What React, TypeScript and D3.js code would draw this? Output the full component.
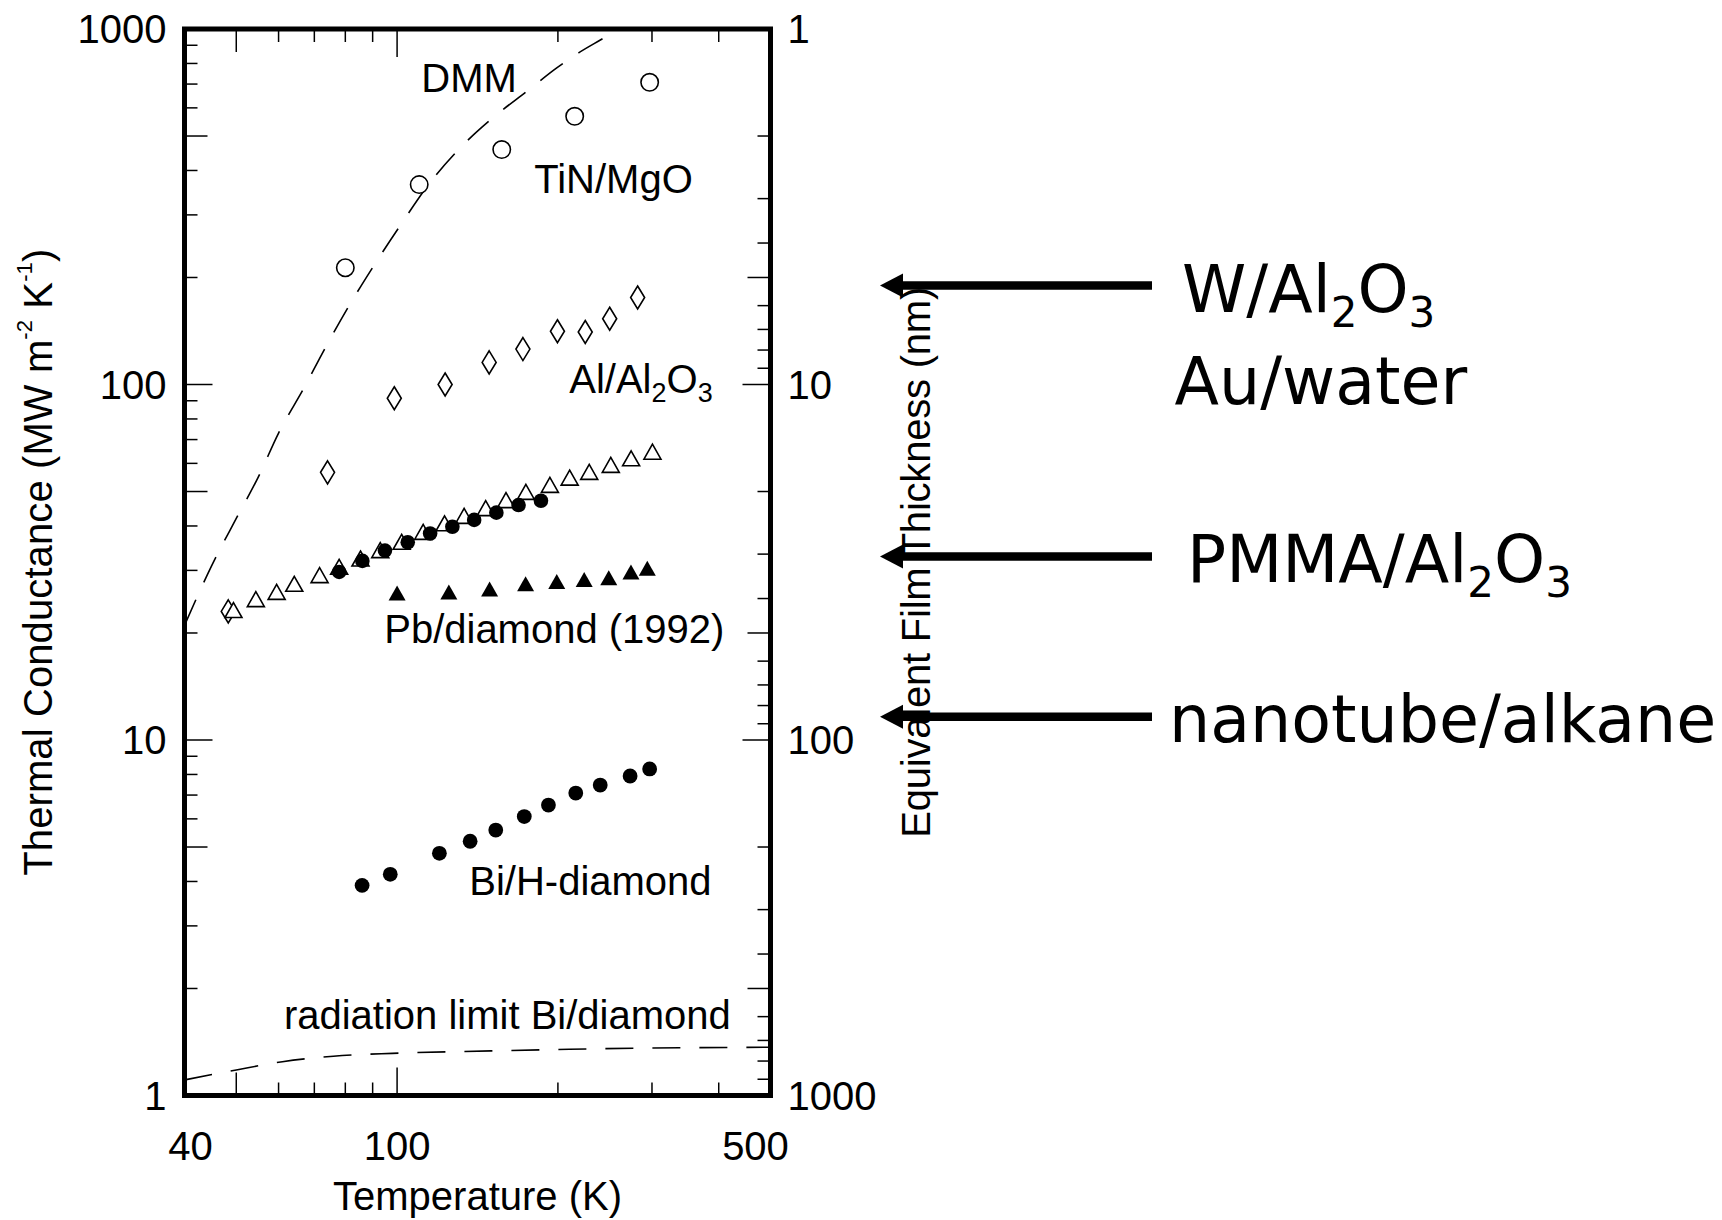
import React from 'react';
import * as d3 from 'd3';

// ---------- data (T in K, G in MW m^-2 K^-1) ----------
const tinT = [80, 110, 157, 215, 297];
const tinG = [213, 365, 458, 568, 708];

const alT = [48.3, 74.1, 98.8, 123, 148.7, 172, 199.6, 225, 250, 282];
const alG = [23.0, 56.6, 91.5, 100, 115.4, 125.8, 141.2, 140.5, 153.1, 175.7];

const openTriT = [49.4, 54.4, 59.5, 64.2, 71.6, 77.9, 85.4, 93, 102, 111.9, 122.7, 133.5, 146.5, 159.9, 174.2, 193.2, 210.4, 228.9, 251.2, 274.2, 300.6];
const openTriG = [23.2, 24.9, 26.1, 27.5, 29.1, 30.7, 32.4, 34.2, 36.1, 38.5, 40.7, 42.7, 44.9, 47.3, 49.9, 52.2, 54.7, 56.8, 59.4, 62.0, 64.7];

const dotT = [77.9, 86.1, 94.9, 104.7, 115.3, 126.9, 139.4, 153.4, 168.8, 185.9];
const dotG = [29.7, 31.9, 34.1, 36.0, 38.1, 39.8, 41.6, 43.6, 45.8, 47.1];

const pbT = [100, 125, 149, 174, 199, 224, 249, 274, 294];
const pbG = [25.9, 26.1, 26.6, 27.5, 27.9, 28.3, 28.6, 29.7, 30.4];

const biT = [86, 97.1, 120, 137, 153, 173, 192, 216, 240, 273, 297];
const biG = [3.9, 4.19, 4.8, 5.19, 5.58, 6.09, 6.56, 7.09, 7.47, 7.92, 8.29];

const dmmT = [40, 45, 50, 55, 60, 67, 73, 81, 91, 102, 115, 132, 152, 175, 199, 219, 245, 262];
const dmmG = [21, 31, 42, 55, 73, 98, 125, 165, 219, 284, 368, 467, 567, 668, 777, 858, 948, 1010];

const radT = [40, 50, 61, 76, 98, 150, 210, 300, 500];
const radG = [1.106, 1.18, 1.245, 1.29, 1.314, 1.335, 1.349, 1.36, 1.367];

// axis ticks
const xLabels = [40, 100, 500];
const xMajor = [100];
const xMid = [50];
const xMinor = [60, 70, 80, 90, 200, 300, 400];
const yLabels = [1, 10, 100, 1000];
const yMajor = [10, 100];
const yMid = [5, 50, 500];
const yMinor = [2, 3, 4, 6, 7, 8, 9, 20, 30, 40, 60, 70, 80, 90, 200, 300, 400, 600, 700, 800, 900];
const rLabels = [1, 10, 100, 1000];

// annotation arrows (conductance level they point to)
const arrowG = [190, 32.8, 11.63];

// in-plot labels: [text, T, G] (left start, baseline)
const plotLabels: [string, number, number][] = [
  ['DMM', 111, 665],
  ['TiN/MgO', 180.6, 345.7],
  ['Pb/diamond (1992)', 94.6, 18.75],
  ['Bi/H-diamond', 136.5, 3.664],
  ['radiation limit Bi/diamond', 61.4, 1.539],
];
const alLabelPos: [number, number] = [210, 94.7];

const W = 1722, H = 1220;
const L = 184.5, R = 770.5, T = 29, B = 1095.5;
const HF = 'Liberation Sans, Arial, Helvetica, sans-serif';
const DF = 'DejaVu Sans, Verdana, sans-serif';

export default function App() {
  const x = d3.scaleLog().domain([40, 500]).range([L, R]);
  const y = d3.scaleLog().domain([1, 1000]).range([B, T]);
  const yR = d3.scaleLog().domain([1, 1000]).range([T, B]);

  const line = d3
    .line<[number, number]>()
    .x((d) => x(d[0]))
    .y((d) => y(d[1]))
    .curve(d3.curveMonotoneX);

  const dmm = line(dmmT.map((t, i) => [t, dmmG[i]]));
  const rad = line(radT.map((t, i) => [t, radG[i]]));

  const tickSets: [number[], number][] = [
    [xMajor, 28],
    [xMid, 23],
    [xMinor, 13],
  ];
  const yTickSets: [number[], number][] = [
    [yMajor, 28],
    [yMid, 23],
    [yMinor, 13],
  ];

  const tri = (cx: number, cy: number, w = 17, h = 15) =>
    `M${cx},${cy - h / 2}L${cx + w / 2},${cy + h / 2}L${cx - w / 2},${cy + h / 2}Z`;
  const dia = (cx: number, cy: number, w = 14, h = 23) =>
    `M${cx},${cy - h / 2}L${cx + w / 2},${cy}L${cx},${cy + h / 2}L${cx - w / 2},${cy}Z`;

  const tipX = 880, baseX = 903, tailX = 1152;

  return (
    <svg
      width={W}
      height={H}
      style={{ position: 'fixed', left: 0, top: 0, background: '#fff' }}
      xmlns="http://www.w3.org/2000/svg"
    >
      <rect x={0} y={0} width={W} height={H} fill="#fff" />
      <defs>
        <clipPath id="plot">
          <rect x={L} y={T} width={R - L} height={B - T} />
        </clipPath>
      </defs>

      {/* ticks */}
      <g stroke="#000" strokeWidth={1.5}>
        {tickSets.map(([vals, len], k) =>
          vals.map((v) => (
            <g key={`xt${k}${v}`}>
              <line x1={x(v)} x2={x(v)} y1={B} y2={B - len} />
              <line x1={x(v)} x2={x(v)} y1={T} y2={T + len} />
            </g>
          ))
        )}
        {yTickSets.map(([vals, len], k) =>
          vals.map((v) => (
            <g key={`yt${k}${v}`}>
              <line x1={L} x2={L + len} y1={y(v)} y2={y(v)} />
              <line x1={R} x2={R - len} y1={yR(v)} y2={yR(v)} />
            </g>
          ))
        )}
      </g>

      {/* curves */}
      <g clipPath="url(#plot)" fill="none" stroke="#000" strokeWidth={1.6} strokeDasharray="28,19">
        <path d={dmm || ''} />
        <path d={rad || ''} />
      </g>

      {/* markers */}
      <g clipPath="url(#plot)">
        {tinT.map((t, i) => (
          <circle key={`tin${i}`} cx={x(t)} cy={y(tinG[i])} r={8.7} fill="#fff" stroke="#000" strokeWidth={1.6} />
        ))}
        {alT.map((t, i) => (
          <path key={`al${i}`} d={dia(x(t), y(alG[i]))} fill="#fff" stroke="#000" strokeWidth={1.6} />
        ))}
        {openTriT.map((t, i) => (
          <path key={`ot${i}`} d={tri(x(t), y(openTriG[i]))} fill="#fff" stroke="#000" strokeWidth={1.6} />
        ))}
        {dotT.map((t, i) => (
          <circle key={`dt${i}`} cx={x(t)} cy={y(dotG[i])} r={7.3} fill="#000" />
        ))}
        {pbT.map((t, i) => (
          <path key={`pb${i}`} d={tri(x(t), y(pbG[i]), 17, 15)} fill="#000" />
        ))}
        {biT.map((t, i) => (
          <circle key={`bi${i}`} cx={x(t)} cy={y(biG[i])} r={7.4} fill="#000" />
        ))}
      </g>

      {/* frame */}
      <rect x={L} y={T} width={R - L} height={B - T} fill="none" stroke="#000" strokeWidth={5} />

      {/* tick labels */}
      <g fontFamily={HF} fontSize={40} fill="#000">
        {yLabels.map((v) => (
          <text key={`yl${v}`} x={L - 18} y={y(v) + 14} textAnchor="end">
            {v}
          </text>
        ))}
        {rLabels.map((v) => (
          <text key={`rl${v}`} x={R + 17} y={yR(v) + 14} textAnchor="start">
            {v}
          </text>
        ))}
        {xLabels.map((v, i) => (
          <text
            key={`xl${v}`}
            x={x(v) + (i === 0 ? 6 : i === xLabels.length - 1 ? -15 : 0)}
            y={B + 64}
            textAnchor="middle"
          >
            {v}
          </text>
        ))}
        <text x={(L + R) / 2} y={B + 114} textAnchor="middle">
          Temperature (K)
        </text>
        <text
          transform={`translate(52,${(T + B) / 2}) rotate(-90)`}
          textAnchor="middle"
          textLength={627}
          lengthAdjust="spacing"
        >
          Thermal Conductance (MW m
          <tspan fontSize={22} dy={-20}>
            -2
          </tspan>
          <tspan dy={20}> K</tspan>
          <tspan fontSize={22} dy={-20}>
            -1
          </tspan>
          <tspan dy={20}>)</tspan>
        </text>
        <text
          transform={`translate(930,${(T + B) / 2}) rotate(-90)`}
          textAnchor="middle"
          textLength={551}
          lengthAdjust="spacing"
        >
          Equivalent Film Thickness (nm)
        </text>

        {/* in-plot labels */}
        {plotLabels.map(([s, t, g]) => (
          <text key={s} x={x(t)} y={y(g)}>
            {s}
          </text>
        ))}
        <text x={x(alLabelPos[0])} y={y(alLabelPos[1])}>
          Al/Al
          <tspan fontSize={27} dy={9}>
            2
          </tspan>
          <tspan dy={-9}>O</tspan>
          <tspan fontSize={27} dy={9}>
            3
          </tspan>
        </text>
      </g>

      {/* arrows */}
      <g fill="#000" stroke="#000">
        {arrowG.map((g, i) => (
          <g key={`ar${i}`}>
            <line x1={baseX - 2} x2={tailX} y1={y(g)} y2={y(g)} strokeWidth={8.5} />
            <path d={`M${tipX},${y(g)}L${baseX},${y(g) - 12}L${baseX},${y(g) + 12}Z`} stroke="none" />
          </g>
        ))}
      </g>

      {/* annotation texts */}
      <g fontFamily={DF} fontSize={65} fill="#000">
        <text x={1182} y={y(arrowG[0]) + 26.7}>
          W/Al
          <tspan fontSize={42} dy={15}>
            2
          </tspan>
          <tspan dy={-15}>O</tspan>
          <tspan fontSize={42} dy={15}>
            3
          </tspan>
        </text>
        <text x={1174.5} y={y(arrowG[0]) + 118.7}>
          Au/water
        </text>
        <text x={1187} y={y(arrowG[1]) + 25}>
          PMMA/Al
          <tspan fontSize={42} dy={15}>
            2
          </tspan>
          <tspan dy={-15}>O</tspan>
          <tspan fontSize={42} dy={15}>
            3
          </tspan>
        </text>
        <text x={1169} y={y(arrowG[2]) + 25.5}>
          nanotube/alkane
        </text>
      </g>
    </svg>
  );
}
